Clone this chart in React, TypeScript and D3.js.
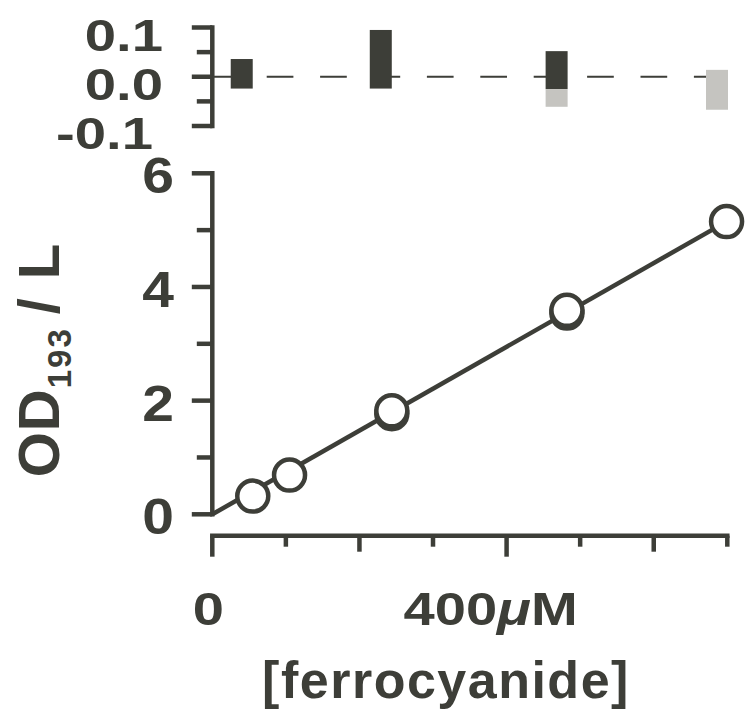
import React from "react";
import * as d3 from "d3";

// ---- data ----
const concentrations = [55, 105, 244, 244, 482, 482, 699]; // µM
const absorbance = [0.32, 0.69, 1.77, 1.82, 3.54, 3.59, 5.15]; // OD193 / L
const fitX = [0, 699];
const fitY = [0, 5.15];

const residualX = [40, 229, 468, 468, 686];
const residualLow = [-0.024, -0.024, -0.025, -0.061, -0.067];
const residualHigh = [0.036, 0.095, 0.052, -0.025, 0.014];
const residualShade = ["dark", "dark", "dark", "light", "light"];

const xTicksLong = [0, 400];
const xTicksMedium = [200, 600];
const xTicksShort = [100, 300, 500, 700];
const xTickLabelValues = [0, 400];
const xTickLabelTexts = ["0", "400"];

const yMajorTicks = [0, 2, 4, 6];
const yMinorTicks = [1, 3, 5];
const residMajorTicks = [0.1, 0, -0.1];
const residMinorTicks = [0.05, -0.05];
const residTickLabels = ["0.1", "0.0", "-0.1"];

// ---- style ----
const DARK = "#3d3e38";
const LIGHT = "#c5c4c0";
const FONT = "'Liberation Sans', Arial, Helvetica, sans-serif";
const SW = 4.5;

export default function App() {
  const x = d3.scaleLinear().domain([0, 700]).range([212.3, 727.3]);
  const y = d3.scaleLinear().domain([0, 6]).range([514.3, 173.3]);
  const r = d3.scaleLinear().domain([-0.1, 0.1]).range([126, 27.5]);
  const xAxisY = 535.7;
  const barW = 22;

  const line = d3
    .line<number>()
    .x((_, i) => x(fitX[i]))
    .y((_, i) => y(fitY[i]));

  const stretch = 1.14;

  return (
    <svg
      width={750}
      height={719}
      style={{ position: "absolute", left: 0, top: 0, background: "#fff" }}
      fontFamily={FONT}
      fontWeight="bold"
      fill={DARK}
    >
      <rect width={750} height={719} fill="#fff" />
      {/* ---------- residual panel ---------- */}
      <line
        x1={x(0) + 1}
        x2={x(700)}
        y1={r(0)}
        y2={r(0)}
        stroke={DARK}
        strokeWidth={2}
        strokeDasharray="26.7 26.7"
      />
      {residualX.map((v, i) => (
        <rect
          key={"rb" + i}
          x={x(v) - barW / 2}
          width={barW}
          y={r(residualHigh[i])}
          height={r(residualLow[i]) - r(residualHigh[i])}
          fill={residualShade[i] === "dark" ? DARK : LIGHT}
        />
      ))}
      <line x1={x(0)} x2={x(0)} y1={r(0.1)} y2={r(-0.1)} stroke={DARK} strokeWidth={SW} strokeLinecap="square" />
      {residMajorTicks.map((t) => (
        <line key={"rm" + t} x1={x(0) - 20.5} x2={x(0)} y1={r(t)} y2={r(t)} stroke={DARK} strokeWidth={SW} />
      ))}
      {residMinorTicks.map((t) => (
        <line key={"rn" + t} x1={x(0) - 15.5} x2={x(0)} y1={r(t)} y2={r(t)} stroke={DARK} strokeWidth={SW} />
      ))}
      {residMajorTicks.map((t, i) => (
        <text
          key={"rl" + t}
          transform={`translate(${t < 0 ? 153 : 163},${r(t) + 23}) scale(1.28,1)`}
          textAnchor="end"
          fontSize={44}
        >
          {residTickLabels[i]}
        </text>
      ))}

      {/* ---------- main panel ---------- */}
      <line x1={x(0)} x2={x(0)} y1={y(6)} y2={y(0)} stroke={DARK} strokeWidth={SW} strokeLinecap="square" />
      {yMajorTicks.map((t) => (
        <line key={"ym" + t} x1={x(0) - 20.5} x2={x(0)} y1={y(t)} y2={y(t)} stroke={DARK} strokeWidth={SW} />
      ))}
      {yMinorTicks.map((t) => (
        <line key={"yn" + t} x1={x(0) - 15.5} x2={x(0)} y1={y(t)} y2={y(t)} stroke={DARK} strokeWidth={SW} />
      ))}
      {yMajorTicks.map((t) => (
        <text
          key={"yl" + t}
          transform={`translate(174,${y(t) + 20}) scale(${stretch},1)`}
          textAnchor="end"
          fontSize={50}
        >
          {String(t)}
        </text>
      ))}

      {/* x axis */}
      <line x1={x(0)} x2={x(700)} y1={xAxisY} y2={xAxisY} stroke={DARK} strokeWidth={SW} strokeLinecap="square" />
      {xTicksLong.map((t) => (
        <line key={"xl" + t} x1={x(t)} x2={x(t)} y1={xAxisY} y2={xAxisY + 21} stroke={DARK} strokeWidth={SW} />
      ))}
      {xTicksMedium.map((t) => (
        <line key={"xm" + t} x1={x(t)} x2={x(t)} y1={xAxisY} y2={xAxisY + 16} stroke={DARK} strokeWidth={SW} />
      ))}
      {xTicksShort.map((t) => (
        <line key={"xs" + t} x1={x(t)} x2={x(t)} y1={xAxisY} y2={xAxisY + 11} stroke={DARK} strokeWidth={SW} />
      ))}
      {xTickLabelValues.map((v, i) => (
        <text
          key={"xt" + v}
          transform={`translate(${x(v) + (v === 0 ? -4 : -16)},625) scale(1.22,1)`}
          textAnchor="middle"
          fontSize={46}
        >
          {xTickLabelTexts[i]}
          {v === 400 ? <tspan fontStyle="italic">μ</tspan> : null}
          {v === 400 ? "M" : null}
        </text>
      ))}
      <text x={446} y={698} textAnchor="middle" fontSize={52} letterSpacing={1.5}>
        [ferrocyanide]
      </text>

      {/* y title */}
      <text transform="translate(59,360) rotate(-90)" textAnchor="middle" fontSize={58} letterSpacing={1}>
        OD
        <tspan fontSize={33} dy={12} letterSpacing={2}>
          193
        </tspan>
        <tspan dy={-12} dx={13}>
          /
        </tspan>
        <tspan dx={18}>L</tspan>
      </text>

      {/* fit line */}
      <path d={line(fitX) || ""} fill="none" stroke={DARK} strokeWidth={SW} />

      {/* data points */}
      {concentrations.map((c, i) => (
        <circle key={"p" + i} cx={x(c)} cy={y(absorbance[i])} r={15.5} fill="#fff" stroke={DARK} strokeWidth={SW} />
      ))}
    </svg>
  );
}
